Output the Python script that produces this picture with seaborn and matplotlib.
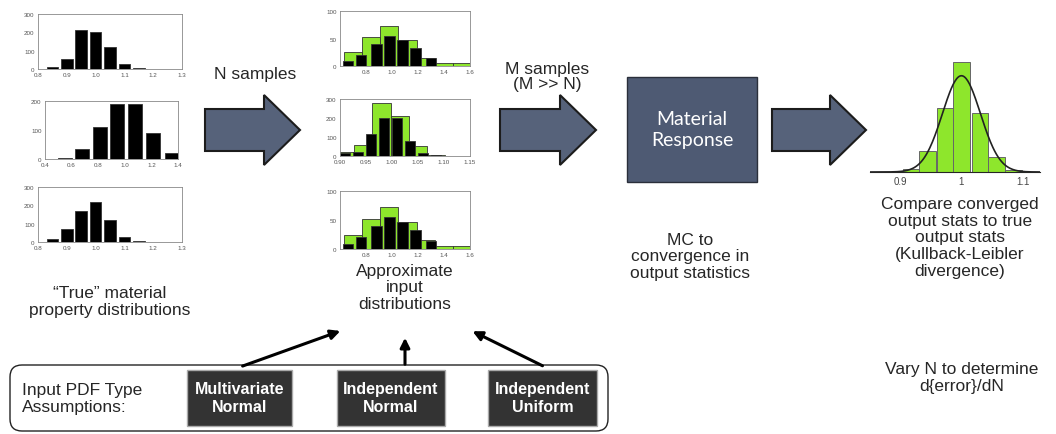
import matplotlib
matplotlib.use("Agg")
import matplotlib.pyplot as plt
from matplotlib.patches import FancyArrow, FancyBboxPatch, Rectangle
from matplotlib.ticker import FormatStrFormatter
import numpy as np
import seaborn as sns

sns.set_style("white")
plt.rcParams['font.family'] = ['Liberation Sans', 'DejaVu Sans']

W, H = 1056, 435
GREEN = "#8ee62c"
ARROW = "#56627a"

# "true" distributions (left column)
true1_x = [0.85, 0.90, 0.95, 1.00, 1.05, 1.10, 1.15]
true1_h = [10, 55, 215, 200, 120, 25, 3]
true2_x = [0.547, 0.675, 0.81, 0.943, 1.08, 1.21, 1.356]
true2_h = [4, 35, 110, 190, 190, 90, 22]
true3_x = [0.85, 0.90, 0.95, 1.00, 1.05, 1.10, 1.15]
true3_h = [18, 70, 170, 220, 120, 30, 5]

# approximate distributions (middle column)
appA_gx = [0.70, 0.84, 0.98, 1.12, 1.26, 1.40, 1.54]
appA_gh = [25, 52, 72, 47, 15, 5, 6]
appA_bx = [0.66, 0.76, 0.88, 0.98, 1.08, 1.18, 1.30]
appA_bh = [9, 20, 40, 55, 47, 32, 14]
appB_gx = [0.91, 0.945, 0.98, 1.015, 1.05, 1.085]
appB_gh = [20, 60, 280, 210, 55, 5]
appB_bx = [0.91, 0.935, 0.96, 0.985, 1.01, 1.035, 1.06, 1.085]
appB_bh = [15, 20, 115, 200, 200, 80, 15, 3]

# output histogram
out_x = [0.918, 0.945, 0.973, 1.0, 1.03, 1.057, 1.085]
out_h = [8, 50, 153, 263, 141, 36, 5]
fit_mu, fit_sigma, fit_peak = 1.0, 0.031, 230

fig = plt.figure(figsize=(W / 100, H / 100), dpi=100)


def px_axes(x0, y0, x1, y1):
    return fig.add_axes([x0 / W, 1 - y1 / H, (x1 - x0) / W, (y1 - y0) / H])


def small_hist(box, xlim, xticks, ylim, yticks, bars):
    ax = px_axes(*box)
    for xs, hs, w, c in bars:
        ax.bar(xs, hs, width=w, color=c, edgecolor="#333333", linewidth=0.6)
    ax.set_xlim(*xlim)
    ax.set_ylim(*ylim)
    ax.set_xticks(xticks)
    ax.set_yticks(yticks)
    ax.tick_params(labelsize=4.5, length=1.5, pad=1, colors="#555555")
    for s in ax.spines.values():
        s.set_color("#888888")
        s.set_linewidth(0.6)
    return ax


t1 = [0.8, 0.9, 1, 1.1, 1.2, 1.3]
small_hist((38, 15, 182, 70), (0.8, 1.3), t1, (0, 300), [0, 100, 200, 300],
           [(true1_x, true1_h, 0.04, "black")])
small_hist((45, 102, 178, 160), (0.4, 1.4), [0.4, 0.6, 0.8, 1, 1.2, 1.4], (0, 200), [0, 100, 200],
           [(true2_x, true2_h, 0.105, "black")])
small_hist((38, 188, 182, 243), (0.8, 1.3), t1, (0, 300), [0, 100, 200, 300],
           [(true3_x, true3_h, 0.04, "black")])

tA = [0.8, 1, 1.2, 1.4, 1.6]
small_hist((340, 12, 470, 67), (0.6, 1.6), tA, (0, 100), [0, 50, 100],
           [(appA_gx, appA_gh, 0.14, GREEN), (appA_bx, appA_bh, 0.08, "black")])
small_hist((340, 100, 470, 157), (0.9, 1.15), [0.9, 0.95, 1, 1.05, 1.1, 1.15], (0, 300), [0, 100, 200, 300],
           [(appB_gx, appB_gh, 0.035, GREEN), (appB_bx, appB_bh, 0.02, "black")])
small_hist((340, 192, 470, 250), (0.6, 1.6), tA, (0, 100), [0, 50, 100],
           [(appA_gx, appA_gh, 0.14, GREEN), (appA_bx, appA_bh, 0.08, "black")])

# output histogram with fitted curve
ax = px_axes(870, 60, 1040, 173)
ax.bar(out_x, out_h, width=0.027, color=GREEN, edgecolor="#666666", linewidth=0.7)
xx = np.linspace(0.85, 1.13, 200)
sns.lineplot(x=xx, y=fit_peak * np.exp(-0.5 * ((xx - fit_mu) / fit_sigma) ** 2),
             color="#222222", linewidth=1.2, ax=ax)
ax.set_xlim(0.851, 1.128)
ax.set_ylim(0, 270)
ax.set_xticks([0.9, 1, 1.1])
ax.xaxis.set_major_formatter(FormatStrFormatter("%g"))
ax.set_yticks([])
ax.tick_params(labelsize=7, length=0, pad=3, colors="#444444")
for k, s in ax.spines.items():
    s.set_visible(k == "bottom")

# overlay for arrows, boxes and text
ov = fig.add_axes([0, 0, 1, 1], zorder=-1)
ov.set_xlim(0, W)
ov.set_ylim(H, 0)
ov.axis("off")
ov.patch.set_alpha(0)


def block_arrow(x0, x1, yc):
    ov.add_patch(FancyArrow(x0, yc, x1 - x0, 0, width=42, head_width=70,
                            head_length=36, length_includes_head=True,
                            facecolor=ARROW, edgecolor="#1c1c1c", linewidth=1.5))


block_arrow(205, 300, 131)
block_arrow(500, 596, 131)
block_arrow(772, 866, 131)

ov.add_patch(Rectangle((627, 78), 130, 105, facecolor="#4e5a73", edgecolor="#2a2f3a", linewidth=1))
ov.text(692, 130, "Material\nResponse", color="white", ha="center", va="center",
        fontsize=14, linespacing=1.3, family=["Lato", "DejaVu Sans"])

fs = 12.5
ov.text(255, 75, "N samples", ha="center", va="center", fontsize=fs)
ov.text(547, 77, "M samples\n(M >> N)", ha="center", va="center", fontsize=fs, linespacing=1.05)
ov.text(690, 257, "MC to\nconvergence in\noutput statistics", ha="center", va="center",
        fontsize=fs, linespacing=1.15)
ov.text(960, 238, "Compare converged\noutput stats to true\noutput stats\n(Kullback-Leibler\ndivergence)",
        ha="center", va="center", fontsize=fs, linespacing=1.15)
ov.text(962, 378, "Vary N to determine\nd{error}/dN", ha="center", va="center",
        fontsize=fs, linespacing=1.15)
ov.text(110, 302, "\u201cTrue\u201d material\nproperty distributions", ha="center", va="center",
        fontsize=fs, linespacing=1.15)
ov.text(405, 288, "Approximate\ninput\ndistributions", ha="center", va="center",
        fontsize=fs, linespacing=1.1)

ov.add_patch(FancyBboxPatch((10, 366), 598, 66, boxstyle="round,pad=0,rounding_size=12",
                            facecolor="white", edgecolor="#222222", linewidth=1))
ov.text(22, 399, "Input PDF Type\nAssumptions:", ha="left", va="center", fontsize=fs, linespacing=1.2)
for x0, x1, lab in [(187, 292, "Multivariate\nNormal"), (337, 445, "Independent\nNormal"),
                    (488, 597, "Independent\nUniform")]:
    ov.add_patch(Rectangle((x0, 371), x1 - x0, 56, facecolor="#333333", edgecolor="#aaaaaa", linewidth=1))
    ov.text((x0 + x1) / 2, 399, lab, color="white", ha="center", va="center",
            fontsize=11.5, fontweight="bold", linespacing=1.25)

for (xa, ya), (xb, yb) in [((240, 368), (343, 331)), ((405, 368), (405, 336)), ((545, 368), (470, 331))]:
    ov.annotate("", xy=(xb, yb), xytext=(xa, ya),
                arrowprops=dict(arrowstyle="-|>", color="black", lw=2.2, mutation_scale=14))

fig.savefig("out.png", dpi=100)
